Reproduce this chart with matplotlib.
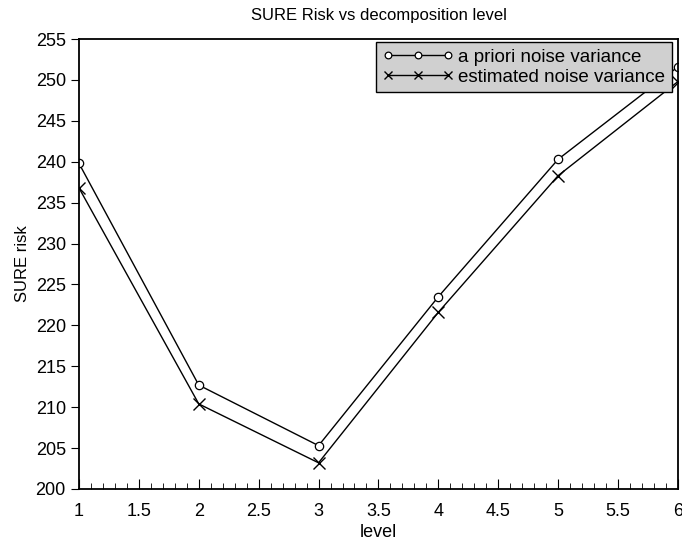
import matplotlib
matplotlib.use('Agg')
import matplotlib.pyplot as plt
from matplotlib.ticker import MultipleLocator

levels = [1, 2, 3, 4, 5, 6]
apriori = [239.8, 212.7, 205.3, 223.5, 240.3, 251.6]
estimated = [236.8, 210.4, 203.2, 221.6, 238.3, 249.8]

plt.rcParams['font.family'] = ['Liberation Sans', 'DejaVu Sans']

fig = plt.figure(figsize=(6.82, 5.42), dpi=100)
ax = fig.add_axes([0.1158, 0.0978, 0.8782, 0.8302])

ax.plot(levels, apriori, '-o', color='black', linewidth=1.0, markersize=6,
        markerfacecolor='white', markeredgewidth=0.9, label='a priori noise variance')
ax.plot(levels, estimated, '-x', color='black', linewidth=1.0, markersize=8,
        markeredgewidth=1.0, label='estimated noise variance')

ax.set_xlim(1, 6)
ax.set_ylim(200, 255)
ax.xaxis.set_major_locator(MultipleLocator(0.5))
ax.xaxis.set_minor_locator(MultipleLocator(0.1))
ax.yaxis.set_major_locator(MultipleLocator(5))
ax.tick_params(axis='x', which='major', direction='in', length=7, labelsize=13, pad=10)
ax.tick_params(axis='x', which='minor', direction='in', length=4)
ax.tick_params(axis='y', direction='out', length=6, labelsize=13)
ax.xaxis.set_major_formatter(plt.FuncFormatter(lambda v, p: '%g' % v))

for s in ax.spines.values():
    s.set_linewidth(1.3)

ax.set_xlabel('level', fontsize=13, labelpad=3)
ax.set_ylabel('SURE risk', fontsize=12, labelpad=4)
ax.set_title('SURE Risk vs decomposition level', fontsize=12, pad=14)

leg = ax.legend(loc='upper right', bbox_to_anchor=(0.990, 0.9933), fontsize=13.5,
                fancybox=False, framealpha=1, borderaxespad=0, numpoints=3,
                handlelength=3.8, handletextpad=0.25, borderpad=0.35,
                labelspacing=0.15, markerscale=0.8)
leg.get_frame().set_facecolor('#d0d0d0')
leg.get_frame().set_edgecolor('black')
leg.get_frame().set_linewidth(1.0)

plt.savefig('out.png', dpi=100)
